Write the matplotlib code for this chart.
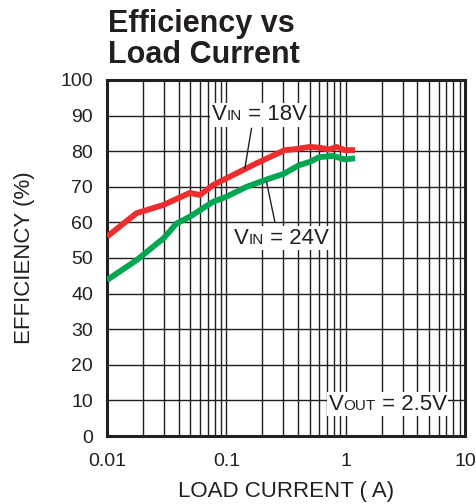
import numpy as np
import matplotlib
matplotlib.use("Agg")
import matplotlib.pyplot as plt
from matplotlib.offsetbox import TextArea, HPacker, AnnotationBbox

plt.rcParams['font.family'] = ['Liberation Sans', 'DejaVu Sans']

# efficiency curves
load_18v = [0.01, 0.0177, 0.0297, 0.0495, 0.06, 0.0776, 0.094, 0.179, 0.309, 0.363, 0.50, 0.60, 0.73, 0.84, 0.98, 1.2]
eff_18v = [56, 62.6, 64.9, 68.3, 67.7, 70.5, 71.9, 76.6, 80.3, 80.5, 81.2, 81.0, 80.5, 81.2, 80.3, 80.3]

load_24v = [0.01, 0.0177, 0.0297, 0.0383, 0.0495, 0.0776, 0.1, 0.148, 0.22, 0.30, 0.41, 0.50, 0.60, 0.78, 0.98, 1.2]
eff_24v = [43.8, 49.4, 55.5, 59.7, 61.6, 65.8, 67.2, 70.0, 72.1, 73.6, 76.1, 77.0, 78.3, 78.7, 77.7, 78.0]

x_ticks = [0.01, 0.1, 1, 10]
x_ticklabels = ['0.01', '0.1', '1', '10']
y_ticks = list(range(0, 101, 10))

fig = plt.figure(figsize=(4.77, 5.04), dpi=100)
ax = fig.add_axes([0.2243, 0.1349, 0.7505, 0.7064])

ax.set_xscale('log')
ax.set_xlim(0.01, 10)
ax.set_ylim(0, 100)
ax.set_xticks(x_ticks)
ax.set_xticklabels(x_ticklabels)
ax.set_yticks(y_ticks)
ax.tick_params(length=0, labelsize=14, colors='#231f20')
ax.tick_params(axis='x', pad=12)
ax.tick_params(axis='y', pad=10)
ax.xaxis.set_minor_locator(matplotlib.ticker.LogLocator(base=10, subs=np.arange(2, 10)))
ax.xaxis.set_minor_formatter(matplotlib.ticker.NullFormatter())
ax.tick_params(which='minor', length=0)
ax.grid(True, which='both', axis='x', color='#231f20', lw=1.0)
ax.grid(True, which='major', axis='y', color='#231f20', lw=1.0)
for s in ax.spines.values():
    s.set_linewidth(2.2)
    s.set_color('#231f20')

ax.plot(load_18v, eff_18v, color='#ee2e2e', lw=4.2, solid_capstyle='butt', zorder=3)
ax.plot(load_24v, eff_24v, color='#00a651', lw=4.2, solid_capstyle='butt', zorder=3)

# leader lines
ax.plot([0.1626, 0.143], [86.4, 75.2], color='#231f20', lw=1.0, zorder=4)
ax.plot([0.255, 0.217], [60.2, 71.4], color='#231f20', lw=1.0, zorder=4)


def label(x, y, sub_main, sub, rest):
    parts = [TextArea(sub_main, textprops=dict(size=16, color='#231f20')),
             TextArea(sub, textprops=dict(size=11, color='#231f20')),
             TextArea(rest, textprops=dict(size=16, color='#231f20'))]
    box = HPacker(children=parts, align='baseline', pad=0, sep=0)
    ab = AnnotationBbox(box, (x, y), xycoords='data', frameon=True, pad=0.12,
                        bboxprops=dict(facecolor='white', edgecolor='none'), zorder=5)
    ax.add_artist(ab)


label(0.19, 90.2, 'V', 'IN', ' = 18V')
label(0.291, 55.6, 'V', 'IN', ' = 24V')
label(2.25, 8.9, 'V', 'OUT', ' = 2.5V')

ax.set_xlabel('LOAD CURRENT ( A)', fontsize=16, color='#231f20', labelpad=8)
ax.set_ylabel('EFFICIENCY (%)', fontsize=16, color='#231f20', labelpad=18)

fig.text(0.2264, 0.982, 'Efficiency vs\nLoad Current', fontsize=22, fontweight='bold',
         color='#231f20', va='top', ha='left', linespacing=1.05)

fig.savefig('out.png', dpi=100)
